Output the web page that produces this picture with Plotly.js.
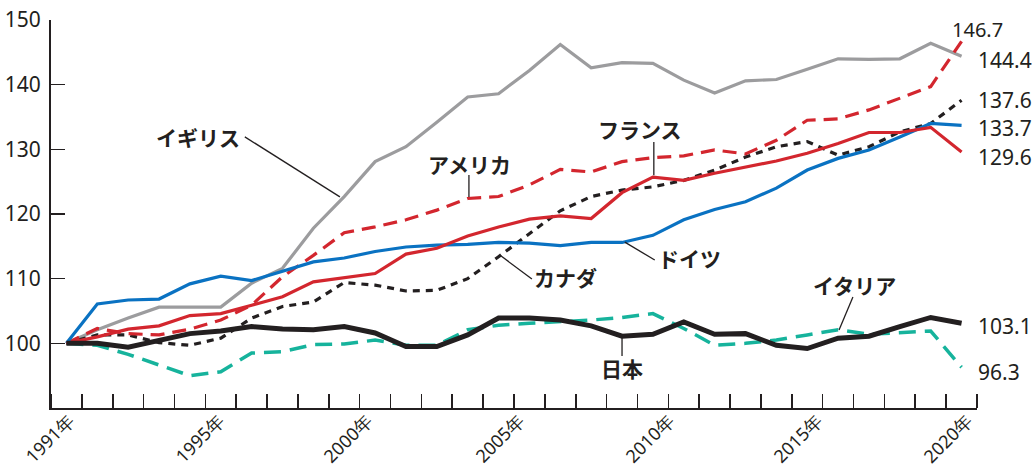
<!DOCTYPE html>
<html>
<head>
<meta charset="utf-8">
<script src="https://cdn.plot.ly/plotly-3.0.1.min.js"></script>
<style>
  html, body { margin: 0; padding: 0; background: #fff; }
  #chart { width: 1035px; height: 465px; }
</style>
</head>
<body>
<div id="chart"></div>
<script>
// 実質賃金指数の推移（1991年=100）
const years = [];
for (let y = 1991; y <= 2020; y++) years.push(y);

const uk      = [100, 102.1, 103.9, 105.6, 105.6, 105.6, 109.3, 111.6, 117.8, 122.7, 128.1, 130.4, 134.2, 138.1, 138.6, 142.2, 146.2, 142.6, 143.4, 143.3, 140.7, 138.7, 140.6, 140.8, 142.4, 144.0, 143.9, 144.0, 146.4, 144.4];
const usa     = [100, 102.3, 101.5, 101.3, 102.2, 103.6, 105.9, 110.3, 113.6, 117.1, 118.0, 119.1, 120.6, 122.4, 122.7, 124.5, 126.9, 126.5, 128.1, 128.7, 129.0, 129.9, 129.3, 131.4, 134.5, 134.7, 136.1, 137.9, 139.7, 146.7];
const france  = [100, 101.0, 102.2, 102.7, 104.3, 104.6, 105.9, 107.2, 109.5, 110.2, 110.8, 113.8, 114.7, 116.6, 118.0, 119.2, 119.7, 119.3, 123.3, 125.7, 125.2, 126.3, 127.3, 128.2, 129.4, 130.9, 132.6, 132.6, 133.4, 129.6];
const canada  = [100, 101.3, 101.3, 100.1, 99.7, 100.8, 103.9, 105.7, 106.4, 109.4, 109.0, 108.1, 108.2, 110.0, 113.4, 117.0, 120.5, 122.7, 123.7, 124.2, 125.2, 126.8, 128.8, 130.4, 131.2, 129.1, 130.4, 132.7, 134.0, 137.6];
const germany = [100, 106.1, 106.7, 106.85, 109.2, 110.4, 109.7, 111.2, 112.6, 113.2, 114.2, 114.9, 115.2, 115.3, 115.6, 115.5, 115.1, 115.6, 115.6, 116.7, 119.1, 120.7, 121.9, 124.0, 126.8, 128.6, 129.9, 131.9, 134.0, 133.7];
const japan   = [100, 100.0, 99.4, 100.5, 101.5, 101.9, 102.6, 102.2, 102.1, 102.6, 101.6, 99.5, 99.5, 101.3, 103.9, 103.9, 103.6, 102.7, 101.1, 101.4, 103.3, 101.4, 101.5, 99.7, 99.2, 100.8, 101.1, 102.6, 104.0, 103.1];
const italy   = [100, 99.7, 98.3, 96.6, 95.0, 95.6, 98.5, 98.7, 99.8, 99.9, 100.5, 99.7, 99.7, 102.1, 102.8, 103.1, 103.3, 103.6, 104.0, 104.6, 102.3, 99.7, 100.0, 100.5, 101.3, 102.1, 101.4, 101.6, 101.9, 96.3];

const yTicks = [100, 110, 120, 130, 140, 150];
const xLabelYears = [1991, 1995, 2000, 2005, 2010, 2015, 2020];
// horizontal placement of the rotated year labels (fraction of plot width)
const xLabelPos = [0.0332, 0.1952, 0.3553, 0.5191, 0.6811, 0.8413, 1.0033];

const INK = '#231f20';
const JP_FONT = '"Noto Sans CJK JP", "Noto Sans", sans-serif';
const NUM_FONT = '"Noto Sans", "Open Sans", sans-serif';

function line(values, color, width, dash) {
  return {
    x: years, y: values, type: 'scatter', mode: 'lines',
    line: { color: color, width: width, dash: dash || 'solid' },
    hoverinfo: 'skip', showlegend: false
  };
}

const traces = [
  line(italy,   '#16b39c', 3.5, '17px,9px'),
  line(uk,      '#9c9c9e', 3.2),
  line(canada,  INK,       3.2, '7px,6px'),
  line(usa,     '#d3262e', 3.2, '14px,8px'),
  line(germany, '#0a72c2', 3.2),
  line(france,  '#d3262e', 3.2),
  line(japan,   INK,       5)
];

// series name labels
const names = [
  { t: 'イギリス', x: 1995.26, y: 131.93 },
  { t: 'アメリカ', x: 2004.07, y: 127.75 },
  { t: 'フランス', x: 2009.58, y: 133.14 },
  { t: 'カナダ',   x: 2007.18, y: 110.25 },
  { t: 'ドイツ',   x: 2011.20, y: 113.20 },
  { t: '日本',     x: 2009.00, y: 96.20 },
  { t: 'イタリア', x: 2016.54, y: 109.00 }
];

// leader lines from name labels to the series
const leaders = [
  [1996.78, 131.93, 1999.86, 122.65],
  [2004.04, 126.03, 2004.04, 122.63],
  [2010.03, 131.13, 2010.03, 126.00],
  [2005.04, 113.65, 2006.08, 109.94],
  [2009.09, 115.66, 2010.06, 112.88],
  [2009.00, 100.97, 2009.00, 98.04],
  [2016.48, 107.17, 2016.03, 102.06]
];

// end-of-series value labels: [series, xshift, yshift, size]
const endLabels = [
  [usa,     -12,  12, 20],
  [uk,       14,  -4, 21],
  [canada,   14,   0, 21],
  [germany,  14,  -3, 21],
  [france,   14,  -5, 21],
  [japan,    14,  -3, 21],
  [italy,    14,  -5, 21]
];

const annotations = [];
names.forEach(n => annotations.push({
  x: n.x, y: n.y, xref: 'x', yref: 'y', text: n.t, showarrow: false,
  xanchor: 'center', yanchor: 'middle',
  font: { family: JP_FONT, size: 21, color: INK, weight: 'bold' }
}));
endLabels.forEach(([vals, xs, ys, sz]) => {
  const v = vals[vals.length - 1];
  annotations.push({
    x: years[years.length - 1], y: v, xref: 'x', yref: 'y',
    text: v.toFixed(1), showarrow: false,
    xanchor: 'left', yanchor: 'middle', xshift: xs, yshift: ys,
    font: { family: NUM_FONT, size: sz, color: INK }
  });
});
xLabelYears.forEach((yr, i) => annotations.push({
  x: xLabelPos[i], y: 0, xref: 'paper', yref: 'paper',
  text: yr + '年', showarrow: false, textangle: -45,
  xanchor: 'right', yanchor: 'top', yshift: 2,
  font: { family: NUM_FONT, size: 18, color: INK }
}));

const shapes = leaders.map(([x0, y0, x1, y1]) => ({
  type: 'line', xref: 'x', yref: 'y', x0, y0, x1, y1,
  line: { color: INK, width: 1.3 }
}));

const layout = {
  width: 1035, height: 465,
  margin: { l: 51, r: 58, t: 20, b: 57 },
  paper_bgcolor: '#fff', plot_bgcolor: '#fff',
  showlegend: false,
  xaxis: {
    range: [1990.5, 2020.5],
    showgrid: false, zeroline: false,
    showline: true, linecolor: INK, linewidth: 2,
    tickmode: 'array', tickvals: [], showticklabels: false,
    ticks: '',
    minor: { ticks: 'inside', tick0: 1990.5, dtick: 1, ticklen: 14, tickwidth: 1.6, tickcolor: INK, showgrid: false }
  },
  yaxis: {
    range: [90, 150],
    showgrid: false, zeroline: false,
    showline: true, linecolor: INK, linewidth: 2,
    tickmode: 'array', tickvals: yTicks,
    ticks: 'inside', ticklen: 14, tickwidth: 1.6, tickcolor: INK,
    ticklabelstandoff: 4,
    tickfont: { family: NUM_FONT, size: 21, color: INK }
  },
  annotations: annotations,
  shapes: shapes
};

Plotly.newPlot('chart', traces, layout, { staticPlot: true, displayModeBar: false });
</script>
</body>
</html>
